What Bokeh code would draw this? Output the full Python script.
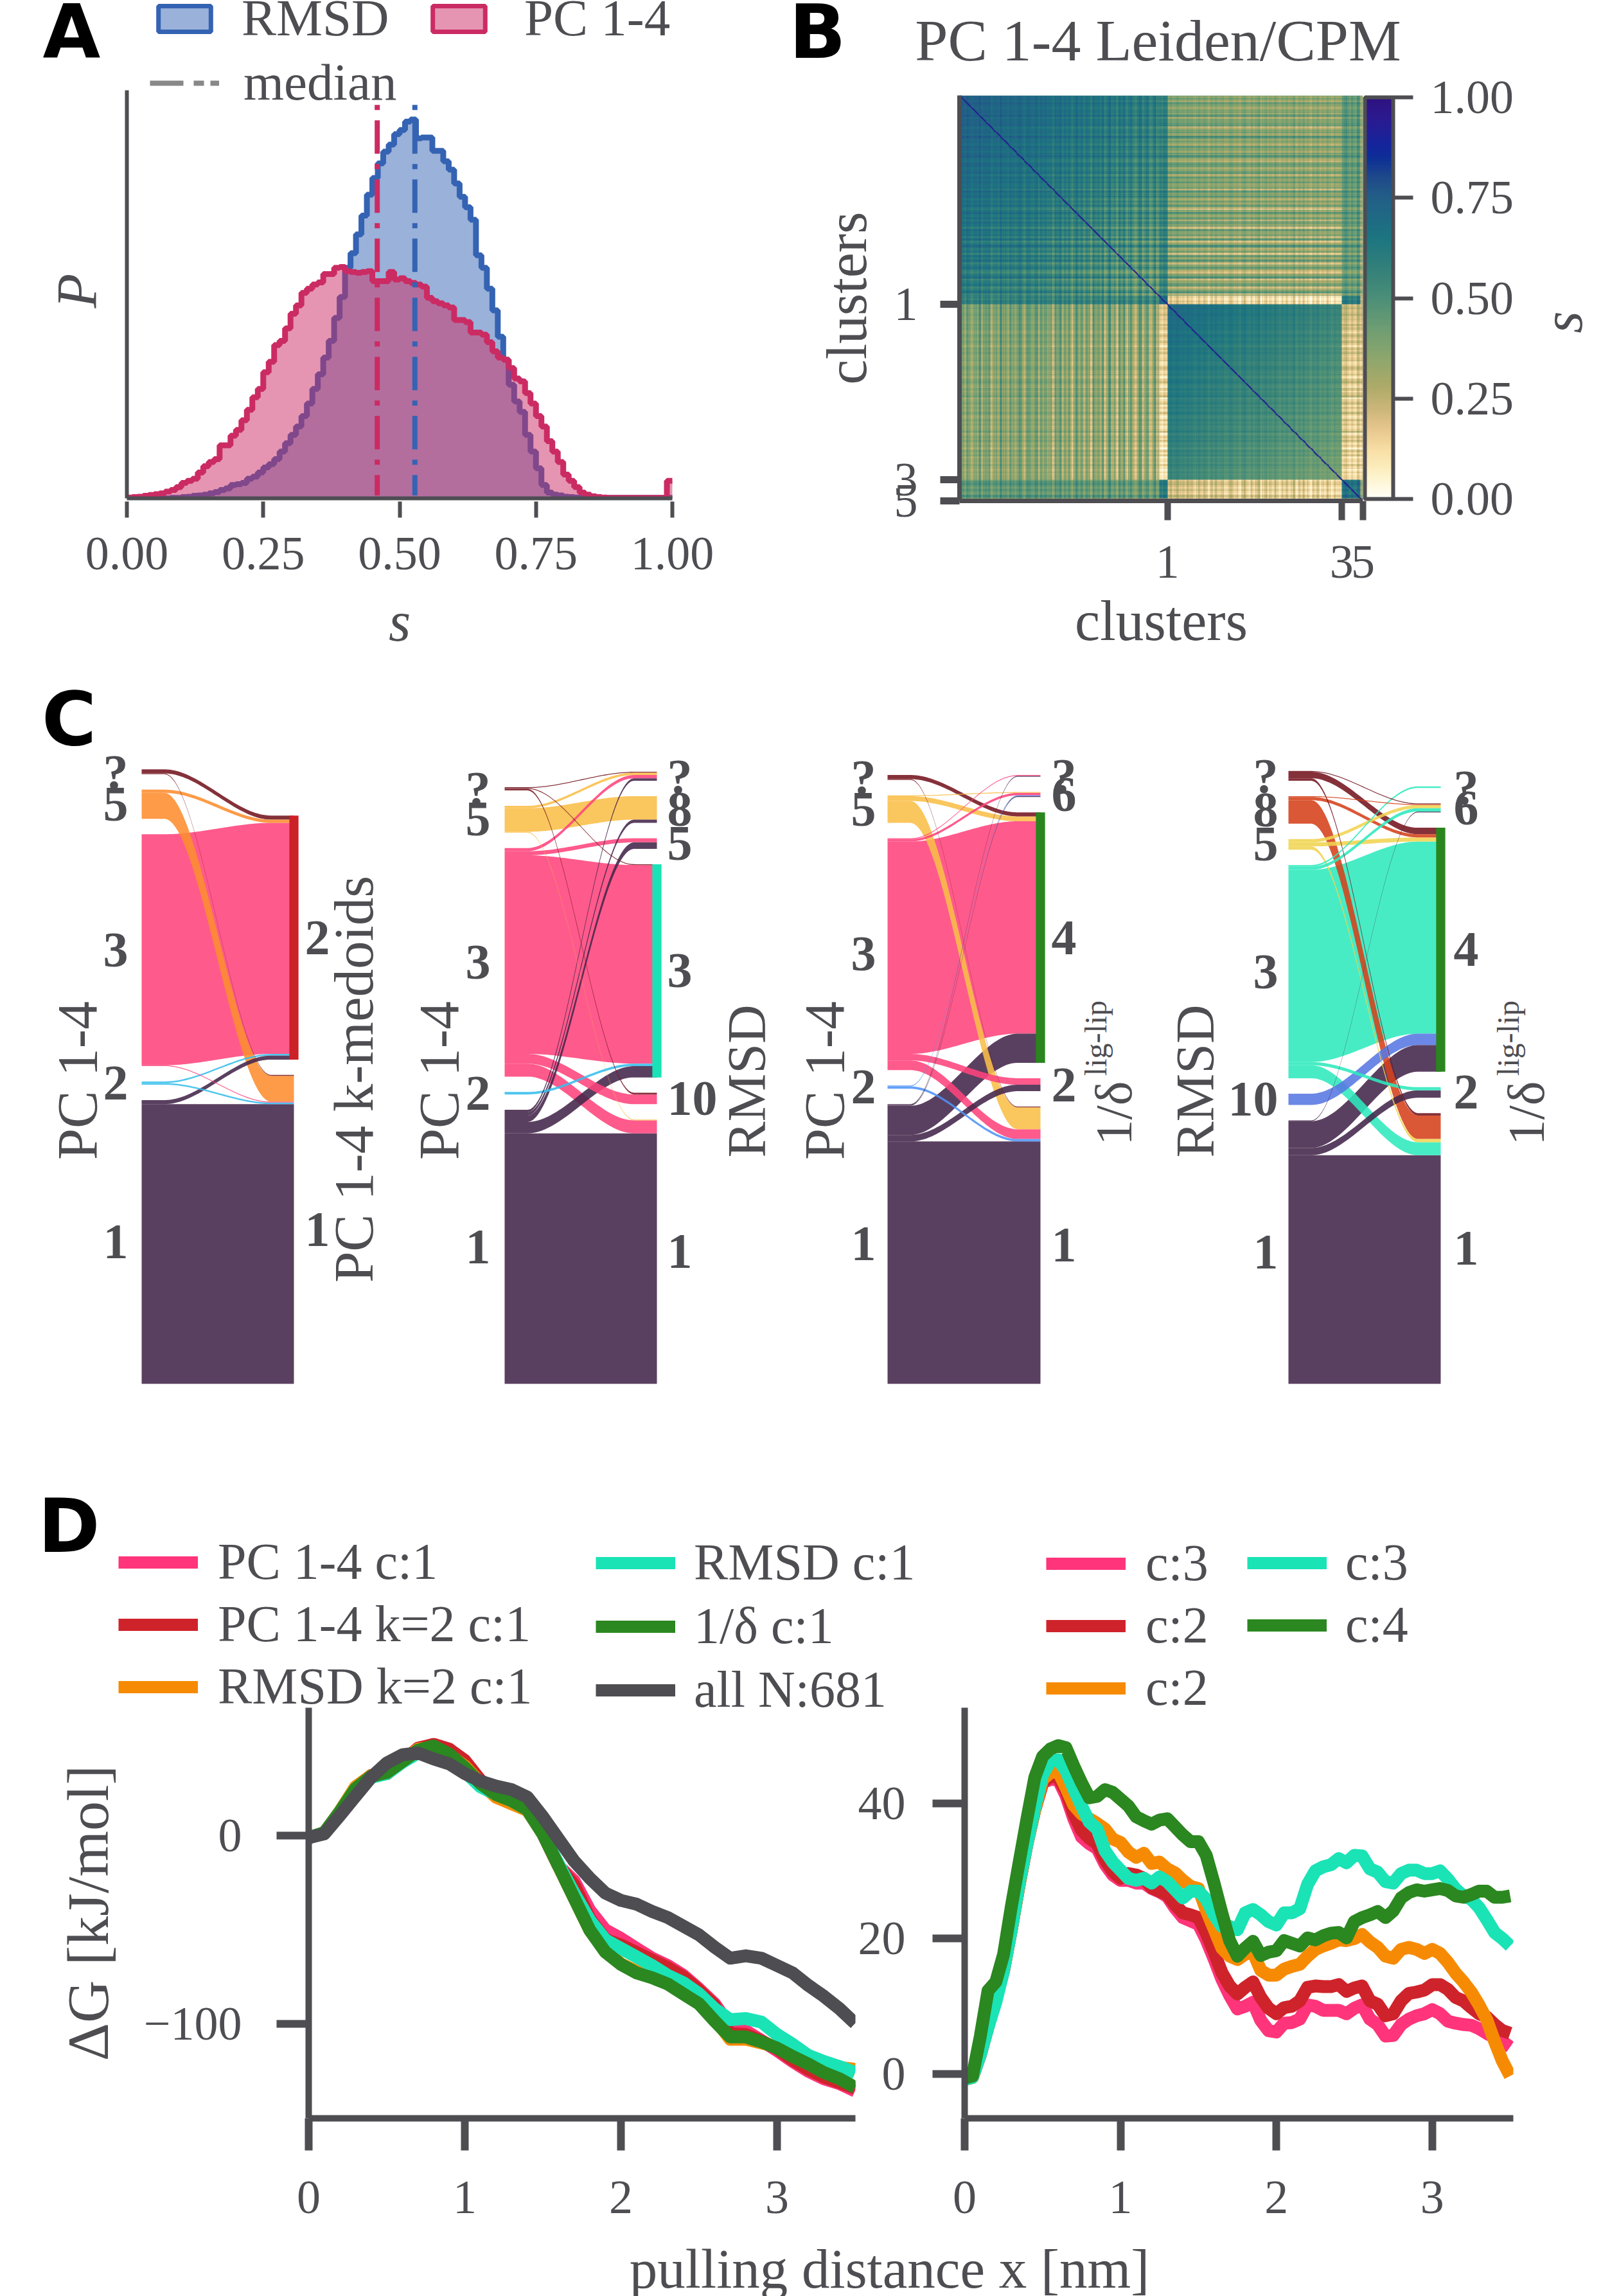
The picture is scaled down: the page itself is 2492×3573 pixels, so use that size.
import math
import numpy as np
from bokeh.core.properties import value
from bokeh.embed import file_html
from bokeh.layouts import column, row
from bokeh.models import ColorBar, FixedTicker, Label, Legend, LinearColorMapper, Range1d
from bokeh.plotting import figure
from bokeh.resources import INLINE

SERIF = "Liberation Serif"
INK = "#4D4D52"
NAN = float("nan")

# A: histogram heights per bin of width 0.01 (arbitrary density units)
bin_edges = [i / 100 for i in range(101)]
hist_pc = [2, 3, 4, 6, 8, 10, 12, 16, 20, 27,
           37, 42, 47, 62, 77, 87, 94, 127, 127, 150,
           164, 187, 212, 242, 262, 302, 327, 367, 377, 407,
           442, 462, 492, 502, 512, 517, 537, 537, 552, 554,
           544, 542, 540, 542, 544, 520, 520, 520, 542, 524,
           527, 520, 516, 512, 507, 480, 472, 467, 462, 457,
           427, 427, 422, 397, 397, 392, 374, 352, 337, 332,
           312, 287, 280, 252, 227, 197, 172, 137, 112, 87,
           57, 42, 27, 14, 9, 5, 3, 2, 1, 1,
           1, 1, 1, 1, 1, 1, 1, 1, 1, 42]
hist_rmsd = [0, 0, 0, 0, 0, 0, 0, 0, 1, 1,
             3, 4, 6, 7, 9, 12, 15, 20, 24, 32,
             34, 37, 47, 52, 62, 74, 82, 94, 112, 132,
             152, 172, 197, 227, 262, 297, 337, 377, 432, 482,
             552, 587, 632, 677, 727, 767, 802, 830, 847, 872,
             882, 902, 907, 862, 864, 864, 832, 832, 807, 787,
             754, 722, 697, 667, 582, 552, 502, 450, 387, 332,
             272, 232, 207, 152, 112, 72, 32, 14, 9, 7,
             4, 3, 2, 2, 1, 1, 1, 1, 1, 1,
             1, 1, 1, 1, 1, 1, 1, 1, 1, 1]
median_s = [0.528, 0.459]
median_top = 942
median_bottom = 7
hist_top = 977

# B: similarity matrix, read as block means plus stripe loadings per group of rows
cluster_sizes = [337, 14, 294, 32, 4]
block_means = [[0.58, 0.52, 0.32, 0.42, 0.30],
               [0.52, 0.62, 0.07, 0.55, 0.20],
               [0.32, 0.07, 0.54, 0.14, 0.15],
               [0.42, 0.55, 0.14, 0.62, 0.30],
               [0.30, 0.20, 0.15, 0.30, 0.70]]
stripes_a = [5, 6, 4, 7, 5, 3, 6, 5, 8, 4, 6, 5, 7, 3, 5, 6, 4, 8, 5, 6,
             3, 7, 5, 4, 6, 8, 5, 3, 6, 7, 4, 5, 8, 3, 6, 5, 7, 4, 6, 2,
             7, 5, 8, 3, 6, 4, 7, 2, 5, 8, 4, 6, 3, 7, 5, 2, 8, 4, 6, 3,
             7, 2, 5, 8, 3, 6, 1, 7, 4, 8, 2, 5, 7, 3, 1, 6, 8, 2, 5, 7,
             1, 4, 8, 2, 6]
stripes_e = [6, 5, 7, 6]
stripes_b = [7, 8, 6, 7, 8, 6, 7, 5, 8, 6, 7, 4, 6, 8, 5, 7, 6, 3, 7, 5,
             8, 4, 6, 7, 3, 5, 8, 6, 4, 7, 2, 6, 8, 5, 3, 7, 4, 6, 8, 2,
             5, 7, 4, 6, 3, 8, 5, 2, 7, 4, 6, 3, 5, 8, 2, 6, 4, 7, 3, 5,
             1, 6, 4, 7, 2, 5, 3, 6, 4, 2, 5, 3, 4, 2]
stripes_c = [5, 7, 4, 6, 3, 7, 5, 2]
stripes_d = [4, 6]
fine_stripes = [2, -1, 1, -2, 0, 3, -1, -3, 2, 0, -2, 1, 3, -1, 0, -3, 1, 2, -2, 0, 1, -1, 3]
gradient_a = [0.16, -0.14]
gradient_b = [0.12, -0.13]
colorbar_ticks = [0.0, 0.25, 0.5, 0.75, 1.0]
cmap_values = [0, 0.02, 0.07, 0.12, 0.17, 0.22, 0.28, 0.35, 0.42, 0.5, 0.55, 0.65, 0.75, 0.8, 0.85, 0.88, 0.95, 1.0]
cmap_colors = ["#FFFEF8", "#FFFBE8", "#FCEFC0", "#F8DFA5", "#E8C88E", "#CDB77A", "#ADAA68", "#8DA66C", "#6F9E72",
               "#4B8F78", "#3A8478", "#1C7580", "#225F87", "#1F4A8A", "#0D2F96", "#13259C", "#2B1A90", "#2E1180"]
heat_ticks = [351, 645, 681]
heat_tick_labels = ["1", "3", "5"]

# C: alluvial flows in structures per pair of clusters
PURPLE, PINK, ORANGE, MAROON, BLUE = "#43264A", "#FF437C", "#FD8D2F", "#74141F", "#37BEEC"
YELLOW, SKY, TEAL, PERI, RUST, SAND = "#F9BE48", "#4F93F7", "#2EE9BD", "#5878E3", "#D5411A", "#F0D451"
node_gap = 19
count_px = 1.2615

left_pc = ["?", "5", "3", "2", "1"]
right_kmed = ["2", "1"]
flows_kmed = [("?", "2", 5), ("?", "1", 1), ("5", "2", 4), ("5", "1", 32), ("3", "2", 285), ("3", "1", 1),
              ("2", "2", 2), ("2", "1", 2), ("1", "2", 5), ("1", "1", 345)]
right_rmsd = ["?", "8", "5", "3", "10", "1"]
flows_rmsd = [("?", "?", 1), ("?", "3", 1), ("?", "10", 2), ("5", "?", 3), ("5", "8", 29), ("5", "1", 1),
              ("3", "?", 4), ("3", "5", 5), ("3", "3", 245), ("3", "10", 12), ("3", "1", 16), ("2", "3", 3),
              ("1", "?", 3), ("1", "8", 4), ("1", "5", 8), ("1", "3", 14), ("1", "1", 309)]
right_delta = ["?", "6", "4", "2", "1"]
flows_delta = [("?", "4", 5), ("?", "1", 1), ("5", "6", 1), ("5", "4", 6), ("5", "1", 27),
               ("3", "?", 1), ("3", "6", 3), ("3", "4", 262), ("3", "2", 8), ("3", "1", 12),
               ("2", "6", 1), ("2", "1", 3), ("1", "?", 1), ("1", "6", 1), ("1", "4", 36), ("1", "2", 8), ("1", "1", 299)]
flows_rmsd_delta = [("?", "6", 1), ("?", "4", 8), ("?", "1", 3), ("8", "6", 1), ("8", "4", 4), ("8", "1", 29),
                    ("5", "6", 4), ("5", "4", 5), ("5", "1", 4), ("3", "?", 2), ("3", "6", 4), ("3", "4", 237),
                    ("3", "2", 4), ("3", "1", 16), ("10", "4", 14), ("1", "6", 1), ("1", "4", 33), ("1", "2", 9),
                    ("1", "1", 282)]
colors_pc = {"?": MAROON, "5": ORANGE, "3": PINK, "2": BLUE, "1": PURPLE}
colors_pc_y = {"?": MAROON, "5": YELLOW, "3": PINK, "2": BLUE, "1": PURPLE}
colors_pc_d = {"?": MAROON, "5": YELLOW, "3": PINK, "2": SKY, "1": PURPLE}
colors_rmsd = {"?": MAROON, "8": RUST, "5": SAND, "3": TEAL, "10": PERI, "1": PURPLE}

# D: free energy profiles
x_left = [i / 10 for i in range(36)]
dg_all = [-1, 1, 10.8, 21, 31, 38.6, 43, 44, 40.8, 38.2, 33, 29, 26.4, 24.5, 20.6, 10.1, -1.7, -13.4, -22.5, -30.4,
          -34.3, -36.3, -40.2, -43.4, -48, -52.6, -59.1, -65, -63.7, -65, -68.9, -72.8, -79.4, -85.2, -91.8, -99.6]
dg_green_l = [-1, 1.6, 12.7, 25, 31.6, 33.6, 39.5, 45.4, 47.7, 43.4, 36.2, 27.7, 21.9, 18.6, 14, 1, -16, -33, -50, -61.7,
              -68.3, -72.8, -75.4, -78.7, -84, -89.2, -98.3, -106.8, -106.8, -109.4, -112.7, -117.2, -121.2, -125.7, -129, -133.6]
dg_teal_l = [-1, 1.6, 12.7, 25, 31, 33, 39, 44, 44.5, 40, 34, 26, 22, 18.6, 14, 1, -15, -30.4, -44.8, -55.2,
             -59.8, -64.3, -68.9, -74.1, -78, -83.9, -91.8, -97.6, -97, -98.9, -105.5, -110.7, -116.6, -119.8, -122.5, -125.7]
dg_pink_l = [-1, 1.6, 12.7, 25, 32, 33, 39.5, 46, 48.5, 46, 39, 29.5, 23, 18, 14, 1, -16, -23.9, -39.5, -50,
             -54.5, -59.8, -65, -68.9, -74.1, -81.3, -89.2, -100.9, -103.5, -108.7, -114, -119.8, -125, -129, -131.6, -135.5]
dg_red_l = [-1, 1.6, 12.7, 25, 32, 33, 39.5, 46.5, 48.5, 46, 40, 29.5, 23, 18, 14, 1, -16, -26, -44, -55,
            -58, -62, -66, -70, -75, -82, -90, -105, -105.5, -109, -113, -119, -124, -128, -131, -134]
dg_orange_l = [-1, 1.6, 13, 26, 32, 34, 40, 46, 47, 43, 37, 28, 20.5, 17, 13.5, 1, -16, -33, -50, -61,
               -68, -72, -75, -78, -83, -88, -97, -108, -108, -110, -112, -117, -121, -124, -123, -124]

x_right = [i / 20 for i in range(71)]
dg_pink_r = [-0.8, -0.5, 2.8, 7, 11, 15.3, 21.4, 28, 34, 39, 43, 43.5, 43.5, 41.1, 37.7, 35, 34, 33.3, 31, 29.4,
             28.6, 28.6, 28.2, 28.2, 27.4, 26.9, 26.2, 24.5, 23.1, 22.6, 22.1, 19.8, 17, 14, 11.6, 9.6, 10, 10.6, 7.9, 6.4,
             6.2, 7.5, 7.6, 8.1, 10.2, 10, 9.4, 9.4, 9.4, 8.9, 9.7, 10.2, 8.1, 7.3, 5.6, 5.7, 7.3, 8.1, 8.6, 8.9,
             9.5, 8.9, 7.8, 7.5, 7.3, 7.2, 6.7, 6, 5.4, 4.8, 4]
dg_red_r = [-0.8, -0.5, 2.8, 7, 11, 15.3, 21.4, 28, 34, 39, 43, 44, 43.8, 41.8, 38.4, 36, 34.8, 34, 31.6, 29.9,
            28.9, 29.6, 29.4, 28.9, 27.5, 27, 26.5, 25, 23.8, 23.5, 23.1, 20.8, 18, 15, 13, 11.8, 12.8, 13.6, 11.3, 9.7,
            8.9, 9.8, 10, 10.8, 12.8, 13, 12.9, 12.9, 13.2, 12.2, 12.7, 13, 10.8, 10.3, 8.6, 8.9, 10.8, 11.9, 12.1, 12.4,
            13.2, 13.2, 12.5, 11.3, 10.8, 9.8, 8.9, 8.4, 7.3, 6.4, 6]
dg_orange_r = [-0.8, -0.5, 2.8, 7, 11, 15.3, 21.4, 28, 34, 39, 43.5, 44.5, 44.7, 42.3, 39.7, 38.4, 37.7, 37, 36.2, 34.7,
               34.2, 32.8, 32, 32.6, 31.1, 31.3, 30.3, 29.7, 28.6, 27.7, 27.4, 24.2, 21.4, 18.6, 17.4, 16.9, 17.7, 18, 15.3, 14.6,
               14.6, 15.5, 15.9, 16.2, 17.4, 18.4, 18.9, 19.3, 19.8, 19.7, 20, 20.6, 19.5, 18.7, 17.4, 17.1, 18.4, 18.7, 18.4, 17.8,
               18.4, 17.8, 16.5, 14.9, 13.6, 12.1, 10.2, 8, 4.8, 1.9, -0.3]
dg_teal_r = [-0.8, -0.5, 2.8, 6.9, 10.6, 15.3, 21.4, 28.2, 34, 39.4, 44.2, 46.2, 46.4, 44.8, 42.1, 39.6, 37.2, 36.2, 33, 31.3,
             30.1, 28.9, 28.6, 28.9, 28.2, 29.1, 28.4, 27.2, 26, 27, 27, 25.8, 23.5, 21.8, 21.8, 21.3, 23.8, 24.3, 23.5, 22.5,
             22, 23.8, 23.8, 24.4, 28, 30, 30.6, 30.9, 31.8, 31.2, 32.3, 32.2, 30.3, 29.8, 28.4, 28.2, 29.6, 30.1, 30.1, 29.6,
             29.6, 30, 28.8, 27.3, 26.3, 25.8, 24.6, 22.8, 20.9, 20, 18.9]
dg_green_r = [-0.6, -0.3, 5.5, 12.3, 13.6, 17.7, 24.8, 31.3, 37.7, 43.8, 46.9, 48, 48.5, 48.2, 45.5, 43, 40.8, 41, 42, 41.6,
              40.6, 39.6, 38, 37.4, 36.9, 37.5, 37.7, 36.5, 35.3, 34.3, 34.3, 32.3, 28.2, 23.8, 19.7, 17.4, 18.6, 19.6, 17.5, 18,
              18.2, 19.7, 19.3, 18.9, 20.1, 19.8, 20.4, 20.8, 20.9, 20.1, 22.5, 23.1, 23.5, 24, 23.1, 24.1, 26, 26.8, 27.2, 27,
              27.2, 27.4, 27.1, 26.3, 26.1, 26.5, 27, 27, 26.1, 26.1, 26.3]

C_PINK, C_RED, C_ORANGE, C_TEAL, C_GREEN = "#FF347A", "#CF232B", "#F68B03", "#1AE3B6", "#2B8720"

frames = {}


def panel(box, frame, x_range, y_range, **kw):
    L, T, R, B = box
    l, t, r, b = frame
    p = figure(frame_width=r - l, frame_height=b - t, min_border_left=l - L, min_border_right=R - r,
               min_border_top=t - T, min_border_bottom=B - b, x_range=Range1d(*x_range), y_range=Range1d(*y_range),
               output_backend="svg", toolbar_location=None, **kw)
    p.outline_line_color = None
    p.grid.visible = False
    frames[p.id] = frame
    return p


def text_panel(box):
    # a bare figure whose ranges are its own pixels, for text that sits outside any axes
    p = panel(box, box, (box[0], box[2]), (0, box[3] - box[1]))
    p.xaxis.visible = False
    p.yaxis.visible = False
    return p


def put(p, text, px, py, size, angle=0, style="normal", font=SERIF, color=INK):
    l, t, r, b = frames[p.id]
    x = p.x_range.start + (px - l) / (r - l) * (p.x_range.end - p.x_range.start)
    y = p.y_range.start + (b - py) / (b - t) * (p.y_range.end - p.y_range.start)
    p.add_layout(Label(x=x, y=y, text=text, text_font=font, text_font_size=f"{size}px", text_font_style=style,
                       text_color=color, text_align="center", text_baseline="middle", angle=angle))


def legend_at(p, items, left, bottom, size, standoff, glyph_w, glyph_h, spacing=0):
    l, t, r, b = frames[p.id]
    lg = Legend(items=items, location=(left - l, b - bottom), padding=0, margin=0, spacing=spacing,
                label_standoff=standoff, glyph_width=glyph_w, glyph_height=glyph_h, border_line_color=None,
                background_fill_alpha=0, label_text_font=SERIF, label_text_font_size=f"{size}px",
                label_text_color=INK, label_text_baseline="middle")
    p.add_layout(lg)


def style_axis(ax, ticks, labels, line_w, tick_w, tick_len, standoff, font=74):
    ax.ticker = FixedTicker(ticks=ticks)
    ax.major_label_overrides = dict(zip(ticks, labels))
    ax.axis_line_color = INK
    ax.axis_line_width = line_w
    ax.major_tick_line_color = INK
    ax.major_tick_line_width = tick_w
    ax.major_tick_out = tick_len
    ax.major_tick_in = 0
    ax.minor_tick_line_color = None
    ax.major_label_standoff = standoff
    ax.major_label_text_font = SERIF
    ax.major_label_text_font_size = f"{font}px"
    ax.major_label_text_color = INK
    ax.axis_label_text_font = SERIF
    ax.axis_label_text_color = INK
    ax.axis_label_text_font_style = "normal"


# --- A ---
a_left = text_panel((0, 0, 187, 779))
put(a_left, "A", 111, 48, 116, style="bold", font="DejaVu Sans", color="black")
put(a_left, "P", 119, 452, 88, angle=math.pi / 2, style="italic")

hist_scale = hist_top / (775 - 140)
pa = panel((187, 0, 1200, 779), (197, 0, 1120, 775), (0, (1120 - 197) / 849), (0, 775 * hist_scale))
edges = np.array(bin_edges)
for heights, col in [(hist_rmsd, "#3563B3"), (hist_pc, "#CB2B63")]:
    h = np.array(heights + heights[-1:], dtype=float)
    pa.varea_step(x=edges, y1=np.zeros(len(edges)), y2=h, step_mode="after", fill_color=col, fill_alpha=0.5)
    pa.step(edges, h, mode="after", line_color=col, line_width=9)
pa.segment(x0=median_s, x1=median_s, y0=[median_top] * 2, y1=[median_bottom] * 2, line_color=["#3563B3", "#CB2B63"],
           line_width=8, line_dash="8 16 52 16")
style_axis(pa.xaxis[0], [], [], 6, 6, 0, 0)
style_axis(pa.yaxis[0], [], [], 6, 6, 0, 0)
pa.xaxis.major_label_text_font_size = "0px"
pa.yaxis.major_label_text_font_size = "0px"
pa.xaxis.bounds = (0, 1)
pa.yaxis.bounds = (0, hist_top)
sw_rmsd = pa.quad(left=[NAN], right=[NAN], top=[NAN], bottom=[NAN], fill_color="#3563B3", fill_alpha=0.5, line_color="#3563B3", line_width=7)
sw_pc = pa.quad(left=[NAN], right=[NAN], top=[NAN], bottom=[NAN], fill_color="#CB2B63", fill_alpha=0.5, line_color="#CB2B63", line_width=7)
sw_med = pa.line([NAN], [NAN], line_color="#888888", line_width=8, line_dash="52 16 16 10")
legend_at(pa, [("RMSD", [sw_rmsd])], 236, 75, 81, 38, 102, 50)
legend_at(pa, [("PC 1-4", [sw_pc])], 663, 75, 81, 51, 102, 50)
legend_at(pa, [("median", [sw_med])], 233, 175, 81, 38, 108, 30)

a_axis = panel((0, 779, 1200, 1050), (197, 779, 1046, 780), (0, 1), (0, 1))
a_axis.yaxis.visible = False
style_axis(a_axis.xaxis[0], colorbar_ticks, ["0.00", "0.25", "0.50", "0.75", "1.00"], 0, 6, 25, 31)
a_axis.xaxis.axis_line_color = None
a_axis.xaxis.axis_label = "s"
a_axis.xaxis.axis_label_text_font_style = "italic"
a_axis.xaxis.axis_label_text_font_size = "88px"
a_axis.xaxis.axis_label_standoff = 30

# --- B ---
N = sum(cluster_sizes)
b_top = text_panel((1200, 0, 2480, 112))
put(b_top, "PC 1-4 Leiden/CPM", 1802, 62, 92)
put(b_top, "B", 1272, 49, 116, style="bold", font="DejaVu Sans", color="black")

pb = panel((1200, 112, 2400, 1050), (1493, 148, 2121, 779), (0, N), (0, N))
seg = np.repeat(np.arange(5), cluster_sizes)
stripes = np.concatenate([np.repeat(np.array(s, dtype=float), n // len(s) + 1)[:n] - 4.5
                          for s, n in zip([stripes_a, stripes_e, stripes_b, stripes_c, stripes_d], cluster_sizes)])
stripes = stripes + 0.6 * np.resize(np.array(fine_stripes, dtype=float), N)
means = np.array(block_means)
pair = stripes[:, None] + stripes[None, :]
mat = means[seg[:, None], seg[None, :]] + 0.026 * pair
pos = np.arange(N, dtype=float)
na, ne, nb = cluster_sizes[:3]
u = np.clip(pos / na, 0, 1)
uu = (u[:, None] + u[None, :]) / 2
aa = np.ix_(seg == 0, seg == 0)
mat[aa] = means[0, 0] + gradient_a[0] + (gradient_a[1] - gradient_a[0]) * uu[aa] + 0.026 * pair[aa] * (0.3 + 0.9 * uu[aa])
v = np.clip((pos - na - ne) / nb, 0, 1)
vv = (v[:, None] + v[None, :]) / 2
bb = np.ix_(seg == 2, seg == 2)
mat[bb] = means[2, 2] + gradient_b[0] + (gradient_b[1] - gradient_b[0]) * vv[bb] + 0.01 * pair[bb]
# the a/b blocks are striped along the rows of a on the right and the columns of a below
ab = np.ix_(seg == 0, seg == 2)
cross = means[0, 2] + 0.042 * stripes[seg == 0][:, None] + 0.014 * stripes[seg == 2][None, :]
mat[ab] = cross
mat[np.ix_(seg == 2, seg == 0)] = cross.T
mat = np.clip(mat, 0.01, 0.97)
for off in (-1, 0, 1):
    idx = np.arange(N - abs(off))
    mat[idx + max(-off, 0), idx + max(off, 0)] = 1.0 if off == 0 else 0.9


def hex_rgb(c):
    return [int(c[i:i + 2], 16) for i in (1, 3, 5)]


rgb = np.array([hex_rgb(c) for c in cmap_colors], dtype=float)
grid = np.linspace(0, 1, 256)
palette = ["#%02X%02X%02X" % tuple(int(round(np.interp(g, cmap_values, rgb[:, k]))) for k in range(3)) for g in grid]
mapper = LinearColorMapper(palette=palette, low=0, high=1)
pb.image(image=[mat[::-1].astype("float32")], x=0, y=0, dw=N, dh=N, color_mapper=mapper)
style_axis(pb.xaxis[0], heat_ticks, heat_tick_labels, 7, 10, 30, 40)
style_axis(pb.yaxis[0], [N - t for t in heat_ticks], heat_tick_labels, 7, 11, 30, 35)
pb.xaxis.axis_label = "clusters"
pb.xaxis.axis_label_text_font_size = "88px"
pb.xaxis.axis_label_standoff = 16
pb.yaxis.axis_label = "clusters"
pb.yaxis.axis_label_text_font_size = "88px"
pb.yaxis.axis_label_standoff = 22
cb = ColorBar(color_mapper=mapper, ticker=FixedTicker(ticks=colorbar_ticks),
              major_label_overrides={t: f"{t:.2f}" for t in colorbar_ticks},
              width=44, padding=3, margin=0, bar_line_color=INK, bar_line_width=6,
              major_tick_line_color=INK, major_tick_line_width=6, major_tick_in=0, major_tick_out=31,
              minor_tick_line_color=None, label_standoff=27, major_label_text_font=SERIF,
              major_label_text_font_size="74px", major_label_text_color=INK)
pb.add_layout(cb, "right")
b_side = text_panel((2400, 112, 2480, 1050))
put(b_side, "s", 2432, 465, 88, angle=math.pi / 2, style="italic")


# --- C ---
def alluvial(box, left_px, right_px, left_nodes, right_nodes, flows, colors, highlight, high_color, off_l, off_r):
    bar_ext = 0.03
    L, T, R, B = box
    w = right_px - left_px
    bottom_px = 2153
    p = panel(box, box, (-(left_px - L) / w, (R - left_px) / w), (-(B - bottom_px) / count_px, (bottom_px - T) / count_px))
    p.xaxis.visible = False
    p.yaxis.visible = False

    def stack(nodes, side):
        spans = {}
        y = 0.0
        for name in reversed(nodes):
            size = sum(f[2] for f in flows if f[side] == name)
            spans[name] = (y, y + size)
            y += size + node_gap
        return spans

    ls, rs = stack(left_nodes, 0), stack(right_nodes, 1)
    tops_l = {k: v[1] for k, v in ls.items()}
    tops_r = {k: v[1] for k, v in rs.items()}
    placed = []
    for src in left_nodes:
        for dst in right_nodes:
            for f in flows:
                if f[0] == src and f[1] == dst:
                    placed.append(f)
    ribbons = {}
    for f in placed:
        ribbons[f] = [tops_l[f[0]], None]
        tops_l[f[0]] -= f[2]
    for dst in right_nodes:
        for src in left_nodes:
            for f in placed:
                if f[0] == src and f[1] == dst:
                    ribbons[f][1] = tops_r[dst]
                    tops_r[dst] -= f[2]
    xs = np.linspace(0, 1, 60)
    t = np.clip((xs - 0.15) / 0.7, 0, 1)
    bend = t * t * (3 - 2 * t)
    for f in sorted(placed, key=lambda q: -q[2]):
        y0, y1 = ribbons[f]
        top = y0 + (y1 - y0) * bend
        p.varea(x=xs, y1=top - f[2], y2=top, fill_color=colors[f[0]], fill_alpha=0.88)
    lo, hi = rs[highlight]
    p.quad(left=[1 - bar_ext], right=[1 + bar_ext], bottom=[lo], top=[hi], fill_color=high_color, line_color=None)
    font = dict(text_font=value(SERIF), text_font_size="78px", text_font_style="bold", text_color=INK, text_baseline="middle")
    p.text(x=[0] * len(left_nodes), y=[sum(ls[n]) / 2 for n in left_nodes], text=left_nodes, x_offset=-off_l,
           text_align="right", **font)
    p.text(x=[1] * len(right_nodes), y=[sum(rs[n]) / 2 for n in right_nodes], text=right_nodes, x_offset=off_r,
           text_align="left", **font)
    return p


c1 = alluvial((0, 1050, 620, 2250), 220, 457, left_pc, right_kmed, flows_kmed, colors_pc, "2", "#CC2127", 21, 17)
put(c1, "PC 1-4", 120, 1681, 88, angle=math.pi / 2)
put(c1, "PC 1-4 k-medoids", 550, 1679, 87, angle=math.pi / 2)
put(c1, "C", 107, 1118, 116, style="bold", font="DejaVu Sans", color="black")
c2 = alluvial((620, 1050, 1210, 2250), 785, 1022, left_pc, right_rmsd, flows_rmsd, colors_pc_y, "3", "#19E3B6", 22, 16)
put(c2, "PC 1-4", 683, 1681, 88, angle=math.pi / 2)
put(c2, "RMSD", 1162, 1682, 84, angle=math.pi / 2)
c3 = alluvial((1210, 1050, 1790, 2250), 1381, 1619, left_pc, right_delta, flows_delta, colors_pc_d, "4", "#2A851E", 18, 17)
put(c3, "PC 1-4", 1283, 1681, 88, angle=math.pi / 2)
put(c3, "1/δ", 1733, 1732, 80, angle=math.pi / 2)
put(c3, "lig-lip", 1705, 1615, 48, angle=math.pi / 2)
c4 = alluvial((1790, 1050, 2480, 2250), 2005, 2242, right_rmsd, right_delta, flows_rmsd_delta, colors_rmsd, "4", "#2A851E", 16, 20)
put(c4, "RMSD", 1860, 1682, 84, angle=math.pi / 2)
put(c4, "1/δ", 2375, 1732, 80, angle=math.pi / 2)
put(c4, "lig-lip", 2347, 1615, 48, angle=math.pi / 2)

# --- D legends ---
strip = text_panel((0, 2250, 2480, 2657))


def swatch(col):
    return strip.line([NAN], [NAN], line_color=col, line_width=19)


legend_at(strip, [("PC 1-4 c:1", [swatch(C_PINK)]), ("PC 1-4 k=2 c:1", [swatch(C_RED)]), ("RMSD k=2 c:1", [swatch(C_ORANGE)])],
          184, 2670, 80, 31, 124, 20, spacing=6)
legend_at(strip, [("RMSD c:1", [swatch(C_TEAL)]), ("1/δ c:1", [swatch(C_GREEN)]), ("all N:681", [swatch(INK)])],
          927, 2675, 80, 29, 124, 20, spacing=8)
legend_at(strip, [("c:3", [swatch(C_PINK)]), ("c:2", [swatch(C_RED)]), ("c:2", [swatch(C_ORANGE)])],
          1628, 2672, 80, 31, 124, 20, spacing=6)
legend_at(strip, [("c:3", [swatch(C_TEAL)]), ("c:4", [swatch(C_GREEN)])],
          1941, 2574, 80, 29, 124, 20, spacing=6)
put(strip, "D", 107, 2374, 116, style="bold", font="DejaVu Sans", color="black")

# --- D curves ---
d1 = panel((0, 2657, 1332, 3480), (480, 2657, 1331, 3296), (0, 851 / 243), (-150, 68))
for ys, col in [(dg_pink_l, C_PINK), (dg_red_l, C_RED), (dg_orange_l, C_ORANGE), (dg_teal_l, C_TEAL), (dg_green_l, C_GREEN), (dg_all, INK)]:
    d1.line(x_left, ys, line_color=col, line_width=20, line_join="round")
style_axis(d1.xaxis[0], [0, 1, 2, 3], ["0", "1", "2", "3"], 10, 12, 50, 48)
style_axis(d1.yaxis[0], [0, -100], ["0", "−100"], 10, 12, 50, 54)
d1.yaxis.axis_label = "ΔG [kJ/mol]"
d1.yaxis.axis_label_text_font_size = "92px"
d1.yaxis.axis_label_standoff = 33

d2 = panel((1332, 2657, 2480, 3480), (1500, 2657, 2354, 3296), (0, 3.52), (-6.55, 54.1))
for ys, col in [(dg_pink_r, C_PINK), (dg_red_r, C_RED), (dg_orange_r, C_ORANGE), (dg_teal_r, C_TEAL), (dg_green_r, C_GREEN)]:
    d2.line(x_right, ys, line_color=col, line_width=20, line_join="round")
style_axis(d2.xaxis[0], [0, 1, 2, 3], ["0", "1", "2", "3"], 10, 12, 50, 48)
style_axis(d2.yaxis[0], [0, 20, 40], ["0", "20", "40"], 10, 12, 50, 42)

xlab = text_panel((0, 3480, 2480, 3573))
put(xlab, "pulling distance x [nm]", 1384, 3530, 87)

a_block = column(row(a_left, pa, spacing=0), a_axis, spacing=0)
b_block = column(b_top, row(pb, b_side, spacing=0), spacing=0)
page = column(row(a_block, b_block, spacing=0), row(c1, c2, c3, c4, spacing=0), strip, row(d1, d2, spacing=0), xlab, spacing=0)
open("out.html", "w").write(file_html(page, INLINE))
